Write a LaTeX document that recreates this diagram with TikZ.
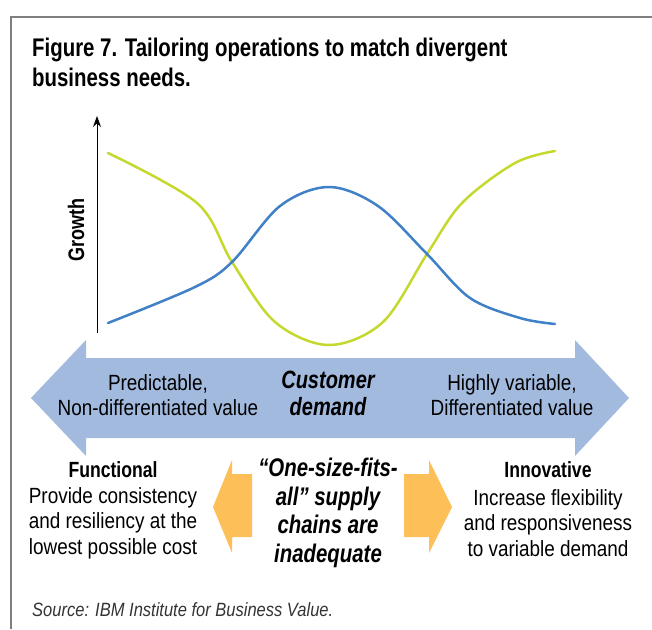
\documentclass[tikz,border=0pt]{standalone}
\usepackage{fontspec}
\setmainfont[FakeStretch=0.8]{Liberation Sans}
\newfontfamily\lightfont[FakeStretch=0.86]{Liberation Sans}
\usetikzlibrary{arrows.meta}

\definecolor{demandblue}{HTML}{A3BADF}
\definecolor{curveblue}{HTML}{3F80C6}
\definecolor{curvegreen}{HTML}{C4D82E}
\definecolor{chainorange}{HTML}{FDBF58}
\definecolor{framegray}{HTML}{7F7F7F}

\tikzset{
    bodytext/.style={align=center, inner sep=0pt, font=\lightfont\fontsize{22}{25.5}\selectfont},
    headtext/.style={inner sep=0pt, font=\fontsize{22}{25}\selectfont\bfseries},
    keytext/.style={align=center, inner sep=0pt, font=\fontsize{25}{27}\selectfont\bfseries\itshape},
    curve/.style={line width=2.5pt, line cap=round}
}

\begin{document}
\begin{tikzpicture}[x=1pt, y=-1pt]
        \useasboundingbox (0, 0) rectangle (652, 629);
        \draw[framegray, line width=1.5pt] (11, 629) |- (652, 17);

        % title
        \node[anchor=north west, align=left, inner sep=0pt,
              font=\fontsize{25.5}{29.5}\selectfont\bfseries] (title) at (32, 38)
            {Figure 7. Tailoring operations to match divergent\\business needs.};

        % growth axis
        \coordinate (axisfoot) at (97, 333);
        \coordinate (axistop) at (97, 116);
        \draw[-{Stealth[length=11pt, width=8pt]}, line width=1pt] (axisfoot) -- (axistop);
        \node[rotate=90, inner sep=0pt, font=\fontsize{22.5}{23}\selectfont\bfseries] (growth) at (76, 230) {Growth};

        \draw[curve, curvegreen] plot[smooth, tension=0.55] coordinates
            {(108, 153) (197, 203) (232, 262) (275, 322) (329, 345) (383, 322) (427, 254) (462, 203) (515, 163) (555, 151)};
        \draw[curve, curveblue] plot[smooth, tension=0.55] coordinates
            {(108, 323) (195, 287) (232, 262) (280, 206) (329, 187) (378, 206) (427, 254) (470, 298) (520, 318) (555, 324)};

        % customer demand arrow
        \fill[demandblue] (31, 398) -- (86, 340) -- (86, 358) -- (575, 358) -- (575, 340)
            -- (629, 398) -- (575, 456) -- (575, 438) -- (86, 438) -- (86, 456) -- cycle;
        \node[bodytext] (predict) at (158, 395) {Predictable,\\Non-differentiated value};
        \node[keytext] (demand) at (328, 393) {Customer\\demand};
        \node[bodytext] (variable) at (512, 395) {Highly variable,\\Differentiated value};

        % one size fits all
        \fill[chainorange] (213, 507) -- (232, 460) -- (232, 474) -- (252, 474) -- (252, 537)
            -- (232, 537) -- (232, 553) -- cycle;
        \fill[chainorange] (452, 507) -- (429, 460) -- (429, 474) -- (404, 474) -- (404, 537)
            -- (429, 537) -- (429, 553) -- cycle;
        \node[keytext, font=\fontsize{25.5}{28.7}\selectfont\bfseries\itshape] (onesize) at (328, 513)
            {``One-size-fits-\\all'' supply\\chains are\\inadequate};

        \node[headtext] (functional) at (113, 470) {Functional};
        \node[bodytext] (funtext) at (113, 523)
            {Provide consistency\\and resiliency at the\\lowest possible cost};
        \node[headtext] (innovative) at (548, 470) {Innovative};
        \node[bodytext] (innotext) at (548, 523)
            {Increase flexibility\\and responsiveness\\to variable demand};

        \node[anchor=west, inner sep=0pt, font=\lightfont\fontsize{19.2}{22}\selectfont\itshape, text=black!80] (source) at (32, 610)
            {Source: IBM Institute for Business Value.};
    \end{tikzpicture}
\end{document}
